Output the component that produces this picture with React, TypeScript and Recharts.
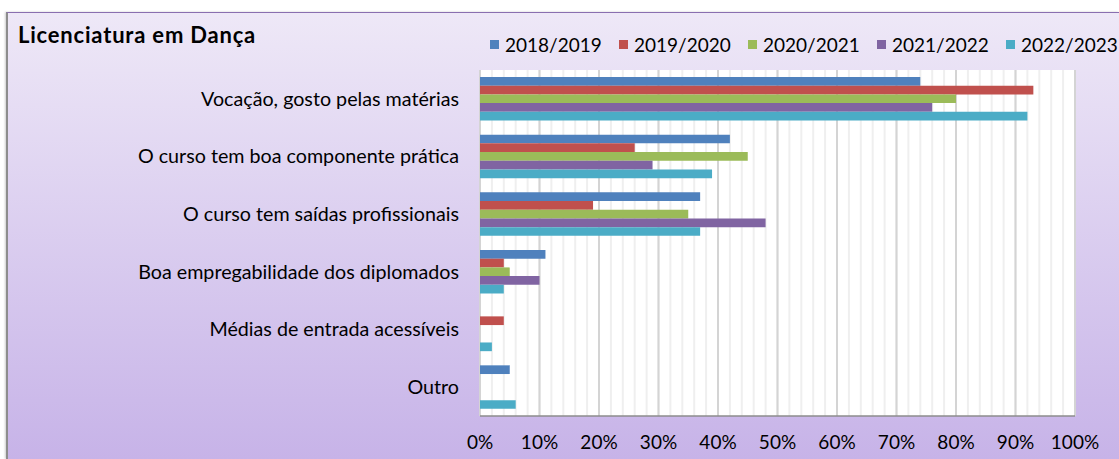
import { Bar, BarChart, CartesianGrid, XAxis, YAxis } from "recharts";

const CATEGORIES = [
  "Vocação, gosto pelas matérias",
  "O curso tem boa componente prática",
  "O curso tem saídas profissionais",
  "Boa empregabilidade dos diplomados",
  "Médias de entrada acessíveis",
  "Outro",
];

const YEARS = ["2018/2019", "2019/2020", "2020/2021", "2021/2022", "2022/2023"];

const V_2018_2019 = [74, 42, 37, 11, 0, 5];
const V_2019_2020 = [93, 26, 19, 4, 4, 0];
const V_2020_2021 = [80, 45, 35, 5, 0, 0];
const V_2021_2022 = [76, 29, 48, 10, 0, 0];
const V_2022_2023 = [92, 39, 37, 4, 2, 6];

const COLORS = ["#4f81bd", "#c0504d", "#9bbb59", "#8064a2", "#4bacc6"];

const X_TICKS = [0, 10, 20, 30, 40, 50, 60, 70, 80, 90, 100];
const MINOR_TICKS = [
  0, 2, 4, 6, 8, 10, 12, 14, 16, 18, 20, 22, 24, 26, 28, 30, 32, 34, 36, 38, 40, 42, 44, 46, 48, 50,
  52, 54, 56, 58, 60, 62, 64, 66, 68, 70, 72, 74, 76, 78, 80, 82, 84, 86, 88, 90, 92, 94, 96, 98, 100,
];
const EDGE_TICKS = [0, 1, 2, 3, 4, 5, 6];

const SERIES_VALUES = [V_2018_2019, V_2019_2020, V_2020_2021, V_2021_2022, V_2022_2023];

const data = CATEGORIES.map((name, i) => {
  const row: Record<string, string | number> = { name };
  YEARS.forEach((y, s) => {
    row[y] = SERIES_VALUES[s][i];
  });
  return row;
});

const FONT = "Lato, 'Liberation Sans', sans-serif";
const AXIS = "#8c8c8c";

// legend kept in html so it doesn't eat plot height
function LegendBox() {
  return (
    <div
      style={{
        position: "absolute",
        left: 490,
        top: 33,
        display: "flex",
        fontFamily: FONT,
        fontSize: 19,
        color: "#000",
      }}
    >
      {YEARS.map((y, i) => (
        <div key={y} style={{ display: "flex", alignItems: "center", width: 129 }}>
          <span style={{ width: 9, height: 9, background: COLORS[i], marginRight: 6, display: "inline-block" }} />
          <span>{y}</span>
        </div>
      ))}
    </div>
  );
}

export default function App() {
  return (
    <div style={{ position: "absolute", left: 0, top: 0, width: 1119, height: 459, background: "#fff", overflow: "hidden" }}>
      <div
        style={{
          position: "absolute",
          left: 6,
          top: 12,
          width: 1113,
          height: 447,
          boxSizing: "border-box",
          borderTop: "1.5px solid #8a6fb0",
          borderLeft: "2px solid #8d8d8d",
          background: "linear-gradient(to bottom, #eee8f7, #c7b3e8)",
          boxShadow: "-1px 0 2px rgba(0,0,0,0.2)",
        }}
      />
      <div
        style={{
          position: "absolute",
          left: 18,
          top: 21,
          fontFamily: FONT,
          fontWeight: 700,
          fontSize: 22,
          letterSpacing: 0.8,
          color: "#000",
        }}
      >
        Licenciatura em Dança
      </div>
      <LegendBox />
      <div style={{ position: "absolute", left: 0, top: 0 }}>
        <BarChart
          width={1119}
          height={459}
          data={data}
          layout="vertical"
          margin={{ top: 70, right: 44, bottom: 0, left: 0 }}
          barGap={0}
          barSize={8.7}
          style={{ fontFamily: FONT }}
        >
          <CartesianGrid
            horizontal={false}
            verticalValues={MINOR_TICKS}
            stroke="#efefef"
            strokeWidth={2}
            fill="#ffffff"
          />
          <CartesianGrid horizontal={false} verticalValues={X_TICKS} stroke="#d4d4d4" strokeWidth={2} />
          <XAxis
            type="number"
            domain={[0, 100]}
            ticks={X_TICKS}
            interval={0}
            tickFormatter={(v) => `${v}%`}
            tickLine={false}
            tickSize={0}
            tickMargin={20}
            height={43}
            axisLine={{ stroke: AXIS, strokeWidth: 1.5 }}
            tick={{ fill: "#000", fontSize: 19 }}
          />
          <YAxis
            type="category"
            dataKey="name"
            width={480}
            interval={0}
            tickLine={false}
            axisLine={false}
            tickSize={0}
            tickMargin={21}
            tick={{ fill: "#000", fontSize: 19.7 }}
          />
          <YAxis
            yAxisId="edges"
            type="number"
            domain={[0, 6]}
            ticks={EDGE_TICKS}
            interval={0}
            mirror
            width={0}
            tick={false}
            tickSize={-7}
            tickLine={{ stroke: AXIS, strokeWidth: 1.5 }}
            axisLine={{ stroke: AXIS, strokeWidth: 1.5 }}
          />
          {YEARS.map((y, i) => (
            <Bar key={y} dataKey={y} fill={COLORS[i]} isAnimationActive={false} />
          ))}
        </BarChart>
      </div>
    </div>
  );
}
